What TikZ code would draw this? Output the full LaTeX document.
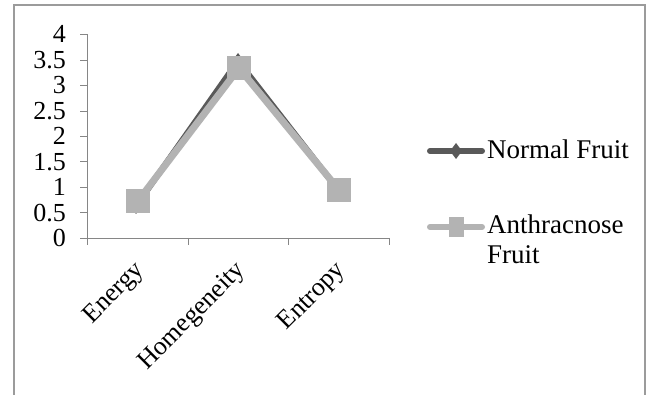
\documentclass[tikz,border=0pt]{standalone}
\usepackage{fontspec}
\setmainfont{Liberation Serif}
\definecolor{normalgray}{RGB}{89,89,89}
\definecolor{anthgray}{RGB}{179,179,179}
\definecolor{framegray}{RGB}{155,155,155}
\definecolor{axisgray}{RGB}{134,134,134}
\tikzset{
  axislabel/.style={inner sep=0pt,font=\fontsize{26}{28}\selectfont},
  legendlabel/.style={inner sep=0pt,align=left,font=\fontsize{27}{30}\selectfont},
  normalline/.style={normalgray,line width=6pt,line join=round},
  anthline/.style={anthgray,line width=7pt,line join=round}
}
\begin{document}
\begin{tikzpicture}[x=1pt,y=1pt]
  \useasboundingbox (0,0) rectangle (656,394);
  \clip (0,0) rectangle (656,394);
  \fill[white] (0,0) rectangle (656,394);
  \draw[framegray,line width=2pt] (14,-10) rectangle (645,389);
  % axes
  \draw[axisgray] (87,156) -- (87,359.6);
  \draw[axisgray] (87,156) -- (389,156);
  \foreach \y in {0,0.5,1,1.5,2,2.5,3,3.5,4} {
    \draw[axisgray] (80,{156+50.9*\y}) -- (87,{156+50.9*\y});
    \node[axislabel,anchor=east] (tick\y) at (66,{156+50.9*\y}) {\y};
  }
  \foreach \x in {87,188,288,389} \draw[axisgray] (\x,156) -- (\x,149);
  \node[axislabel,anchor=north east,rotate=45] (catenergy) at (133,135) {Energy};
  \node[axislabel,anchor=north east,rotate=45] (cathomog) at (234,135) {Homegeneity};
  \node[axislabel,anchor=north east,rotate=45] (catentropy) at (334,135) {Entropy};
  % normal fruit
  \draw[normalline] (136,188) -- (238,333) -- (339,203);
  \begin{scope}[normalgray]
   \fill (136,188) ++(0,8) -- ++(6,-8) -- ++(-6,-8) -- ++(-6,8) -- cycle;
   \fill (238,333) ++(0,8) -- ++(6,-8) -- ++(-6,-8) -- ++(-6,8) -- cycle;
   \fill (339,203) ++(0,8) -- ++(6,-8) -- ++(-6,-8) -- ++(-6,8) -- cycle;
  \end{scope}
  % anthracnose fruit
  \draw[anthline] (138,193) -- (239,326) -- (339,204);
  \begin{scope}[anthgray]
   \fill (126,181) rectangle ++(24,24);
   \fill (227,314) rectangle ++(24,24);
   \fill (327,192) rectangle ++(24,24);
  \end{scope}
  % legend
  \draw[normalgray,line width=6pt,line cap=round] (430,243) -- (482,243);
  \fill[normalgray] (456,243) ++(0,8) -- ++(6,-8) -- ++(-6,-8) -- ++(-6,8) -- cycle;
  \draw[anthgray,line width=6pt,line cap=round] (430,167) -- (482,167);
  \fill[anthgray] (449,157) rectangle ++(15,20);
  \node[legendlabel,anchor=base west] (legnormal) at (487,235) {Normal Fruit};
  \node[legendlabel,anchor=base west] (leganth) at (487,131) {Anthracnose\\Fruit};
\end{tikzpicture}
\end{document}
